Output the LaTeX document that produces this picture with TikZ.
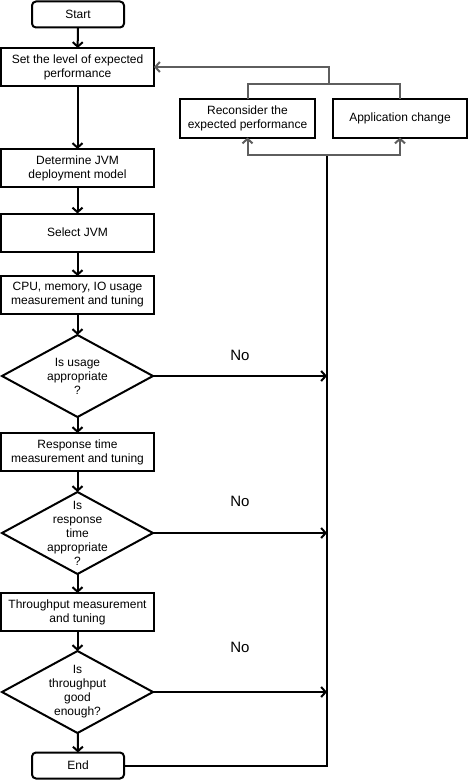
\documentclass[tikz,border=0pt]{standalone}
\usepackage{fontspec}
\setmainfont{Liberation Sans}
\usepackage{tikz}
\usetikzlibrary{calc,arrows.meta,shapes.geometric}
\definecolor{fbgray}{HTML}{5E5E5E}
\tikzset{
	every node/.style={font=\fontsize{12}{14}\selectfont,outer sep=0pt,inner sep=2pt},
	terminal/.style={rectangle,draw,rounded corners=4pt,line width=2pt,minimum width=92pt,minimum height=26pt},
	block/.style={rectangle,draw,line width=2pt,minimum width=153pt,minimum height=38pt,align=center},
	sideblock/.style={block,minimum width=135pt},
	decision/.style={diamond,draw,line width=2pt,minimum width=151pt,minimum height=82pt,inner sep=0pt},
	dtext/.style={align=center},
	nolabel/.style={font=\fontsize{15}{17}\selectfont},
	flow/.style={line width=2pt},
	feedback/.style={line width=2pt,draw=fbgray},
	directed/.style={arrows={-Straight Barb[length=4.5pt,width=10pt]}}
}
\begin{document}
\begin{tikzpicture}[x=1pt,y=-1pt]
		\useasboundingbox (0,0) rectangle (470,781);
		\node[terminal] (start) at (78,14.5) {Start};
		\node[block] (setlvl) at ($(start) + (-0.5,52.5)$) {Set the level of expected\\performance};
		\node[block] (determine) at ($(setlvl) + (0,101)$) {Determine JVM\\deployment model};
		\node[block] (select) at ($(determine) + (0,64.5)$) {Select JVM};
		\node[block] (cpu) at ($(select) + (0,62.5)$) {CPU, memory, IO usage\\measurement and tuning};
		\node[decision] (usage) at ($(cpu) + (0,81)$) {};
		\node[dtext] (usagetxt) at (usage) {Is usage\\appropriate\\?};
		\node[block] (response) at ($(usage) + (0,76)$) {Response time\\measurement and tuning};
		\node[decision] (resptime) at ($(response) + (0,81)$) {};
		\node[dtext] (resptimetxt) at (resptime) {Is\\response\\time\\appropriate\\?};
		\node[block] (throughput) at ($(resptime) + (0,79)$) {Throughput measurement\\and tuning};
		\node[decision] (enough) at ($(throughput) + (0,80)$) {};
		\node[dtext] (enoughtxt) at (enough) {Is\\throughput\\good\\enough?};
		\node[terminal] (stop) at ($(enough) + (0.5,73.5)$) {End};
		
		\node[sideblock] (reconsider) at (247.5,118.5) {Reconsider the\\expected performance};
		\node[sideblock,minimum width=134pt] (appchange) at ($(reconsider) + (152.5,0)$) {Application change};
		
		\coordinate (topjoin) at (329,84);
		\coordinate (botjoin) at (327,155);
		\coordinate (endcorner) at (327,765.5);
		
		\node[nolabel] (no1) at (240,355) {No};
		\node[nolabel] (no2) at (240,501) {No};
		\node[nolabel] (no3) at (240,647) {No};
		
		\draw[flow,directed] (start) -- (setlvl);
		\draw[flow,directed] (setlvl) -- (determine);
		\draw[flow,directed] (determine) -- (select);
		\draw[flow,directed] (select) -- (cpu);
		\draw[flow,directed] (cpu) -- (usage);
		\draw[flow,directed] (usage) -- (response);
		\draw[flow,directed] (response) -- (resptime);
		\draw[flow,directed] (resptime) -- (throughput);
		\draw[flow,directed] (throughput) -- (enough);
		\draw[flow,directed] (enough) -- (stop);
		
		\draw[flow,directed] (usage.east) -- (usage.east -| botjoin);
		\draw[flow,directed] (resptime.east) -- (resptime.east -| botjoin);
		\draw[flow,directed] (enough.east) -- (enough.east -| botjoin);
		\draw[flow] (stop.east) -- (endcorner) -- (botjoin);
		
		\draw[feedback,directed] (botjoin) -| (reconsider.south);
		\draw[feedback,directed] (botjoin) -| (appchange.south);
		\draw[feedback] (reconsider.north) |- (topjoin) -| (appchange.north);
		\draw[feedback,directed] (topjoin) |- (setlvl.east);
		\end{tikzpicture}
\end{document}
